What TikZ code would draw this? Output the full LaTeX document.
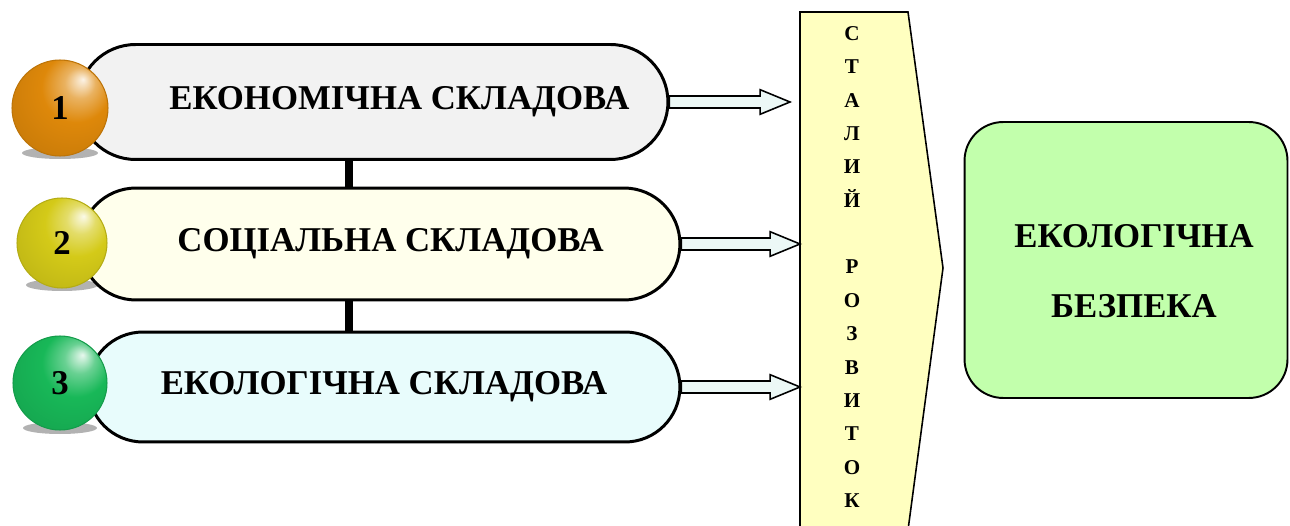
\documentclass[tikz,border=0pt]{standalone}
\usepackage{fontspec}
\setmainfont{Liberation Serif}
\usetikzlibrary{shapes.misc,calc}
\definecolor{pillgray}{RGB}{242,242,242}
\definecolor{pillcream}{RGB}{255,255,236}
\definecolor{pillcyan}{RGB}{232,252,252}
\definecolor{srfill}{RGB}{255,255,192}
\definecolor{goalfill}{RGB}{194,255,172}
\definecolor{arrfill}{RGB}{236,248,246}
\definecolor{ballorange}{RGB}{222,136,10}
\definecolor{ballyellow}{RGB}{212,202,24}
\definecolor{ballgreen}{RGB}{24,184,88}
\makeatletter
\pgfdeclareradialshading[tikz@ball]{softball}{\pgfqpoint{12bp}{15bp}}{%
  color(0bp)=(tikz@ball!10!white); color(8bp)=(tikz@ball!65!white);
  color(18bp)=(tikz@ball); color(40bp)=(tikz@ball!88!black);
  color(60bp)=(tikz@ball!75!black)}
\makeatother
\tikzset{
  pill/.style={rounded rectangle, draw=black, line width=1.7pt, inner sep=0pt,
    font=\bfseries\fontsize{19.8}{24}\selectfont},
  ball/.style={circle, draw=#1!85!black, line width=0.6pt, ball color=#1, shading=softball,
    inner sep=0pt, font=\bfseries\fontsize{19.8}{24}\selectfont},
  ballshadow/.style={fill=black, opacity=0.3},
  link/.style={line width=4.5pt, black},
  barrow/.style={draw=black, line width=0.9pt, fill=arrfill},
  srbox/.style={draw=black, line width=0.9pt, fill=srfill},
  goal/.style={draw=black, line width=1.1pt, fill=goalfill, rounded corners=22pt,
    minimum width=6.46cm, minimum height=5.52cm},
  goaltext/.style={align=center, font=\bfseries\fontsize{19.8}{40}\selectfont}
}
\newcommand{\blockarrow}[2]{%
  \path[barrow] let \p1=(#1), \p2=(#2) in
    (\x1,\y1+3.4pt) -- (\x2-17pt,\y1+3.4pt) -- (\x2-17pt,\y1+7pt) -- (\x2,\y1)
    -- (\x2-17pt,\y1-7pt) -- (\x2-17pt,\y1-3.4pt) -- (\x1,\y1-3.4pt) -- cycle;}

\begin{document}
\begin{tikzpicture}[x=0.02cm,y=-0.02cm]
\useasboundingbox (0,0) rectangle (1290,526);
\node[pill, fill=pillgray, minimum width=11.8cm, minimum height=2.3cm] (pill1) at (373,102) {\hspace*{30pt}ЕКОНОМІЧНА СКЛАДОВА};
\node[pill, fill=pillcream, minimum width=12cm, minimum height=2.24cm] (pill2) at (380,244) {\hspace*{12pt}СОЦІАЛЬНА СКЛАДОВА};
\node[pill, fill=pillcyan, minimum width=11.84cm, minimum height=2.2cm] (pill3) at (384,387) {ЕКОЛОГІЧНА СКЛАДОВА};
\coordinate (barx) at (349,0);
\draw[link] (pill1.south -| barx) -- (pill2.north -| barx);
\draw[link] (pill2.south -| barx) -- (pill3.north -| barx);
\fill[ballshadow] (60,153) ellipse (38 and 6);
\fill[ballshadow] (62,285) ellipse (36 and 6);
\fill[ballshadow] (60,428) ellipse (37 and 6);
\node[ball=ballorange, minimum size=1.92cm] (b1) at (60,108) {1};
\node[ball=ballyellow, minimum size=1.8cm] (b2) at (62,243) {2};
\node[ball=ballgreen, minimum size=1.88cm] (b3) at (60,383) {3};
\draw[srbox] (800,12) -- (908,12) -- (943,268) -- (908,530) -- (800,530) -- cycle;
\coordinate (srw) at (800,268);
\node[align=center, font=\bfseries\fontsize{12}{19}\selectfont] (sr) at (852,267)
  {С\\Т\\А\\Л\\И\\Й\\[19pt]Р\\О\\З\\В\\И\\Т\\О\\К};
\blockarrow{pill1.east}{$(pill1.east -| srw)+(-10,0)$}
\blockarrow{pill2.east}{pill2.east -| srw}
\blockarrow{pill3.east}{$(pill3.east -| srw)+(0,10)$}
\node[goal] (eb) at (1126,260) {};
\node[goaltext] (ebt) at ($(eb)+(8,11)$) {ЕКОЛОГІЧНА\\БЕЗПЕКА};
\end{tikzpicture}
\end{document}
